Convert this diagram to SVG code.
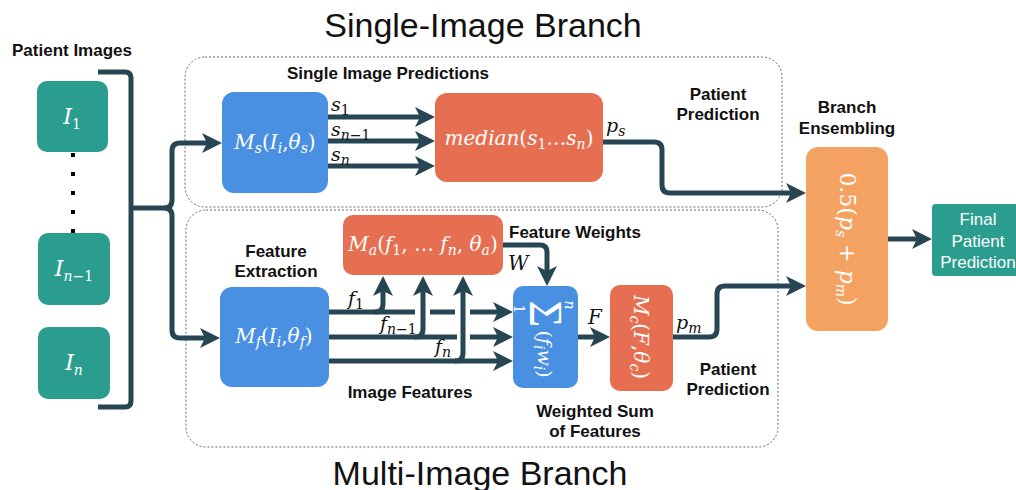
<svg xmlns="http://www.w3.org/2000/svg" width="1016" height="490" viewBox="0 0 1016 490">
<defs>
<marker id="ah" markerUnits="userSpaceOnUse" markerWidth="22" markerHeight="22" refX="12" refY="11" orient="auto">
<path d="M0,1 L20,11 L0,21 L5,11 Z" fill="#264653"/>
</marker>
<style>
.t{font-family:"Liberation Sans",Arial,sans-serif;font-weight:bold;font-size:17px;fill:#111;text-anchor:middle}
.title{font-family:"Liberation Sans",Arial,sans-serif;font-size:34px;fill:#111;text-anchor:middle}
.m{font-family:"DejaVu Serif",serif;font-style:italic;fill:#fff;text-anchor:middle}
.ml{font-family:"DejaVu Serif",serif;font-style:italic;fill:#111}
.up{font-style:normal}
.sb{font-size:14px}
.c{fill:none;stroke:#264653;stroke-width:5}
.a{fill:none;stroke:#264653;stroke-width:5;marker-end:url(#ah)}
.box{fill:none;stroke:#666;stroke-width:1;stroke-dasharray:2,2}
.w{font-family:"Liberation Sans",Arial,sans-serif;font-size:17px;fill:#fff;text-anchor:middle}
</style>
</defs>
<rect width="1016" height="490" fill="#fff"/>

<g id="containers">
<rect class="box" x="185" y="57" width="597" height="150" rx="20"/>
<rect class="box" x="186" y="210" width="592" height="237" rx="20"/>
</g>

<text class="title" x="483" y="37">Single-Image Branch</text>
<text class="title" x="480" y="485">Multi-Image Branch</text>

<g id="patient-images">
<text class="t" x="72" y="56">Patient Images</text>
<g id="I1"><rect x="37" y="81" width="71" height="71" rx="10" fill="#2A9D8F"/>
<text class="m" x="72" y="124" style="font-size:22px">I<tspan class="up sb" dy="5">1</tspan></text></g>
<g id="dots" fill="#000">
<rect x="71" y="153" width="4" height="4"/><rect x="71" y="172" width="4" height="4"/><rect x="71" y="191" width="4" height="4"/><rect x="71" y="210" width="4" height="4"/><rect x="71" y="229" width="4" height="4"/>
</g>
<g id="In1"><rect x="38" y="233" width="72" height="72" rx="10" fill="#2A9D8F"/>
<text class="m" x="74" y="276" style="font-size:22px">I<tspan class="sb" dy="5">n<tspan class="up">−1</tspan></tspan></text></g>
<g id="In"><rect x="38" y="327" width="72" height="72" rx="10" fill="#2A9D8F"/>
<text class="m" x="74" y="370" style="font-size:22px">I<tspan class="sb" dy="5">n</tspan></text></g>
</g>

<g id="Ms"><rect x="222" y="92" width="106" height="101" rx="12" fill="#4A90E2"/>
<text class="m" x="275" y="149" style="font-size:20px">M<tspan class="sb" dy="4">s</tspan><tspan class="up" dy="-4">(</tspan>I<tspan class="sb" dy="4">i</tspan><tspan class="up" dy="-4">,</tspan>θ<tspan class="sb" dy="4">s</tspan><tspan class="up" dy="-4">)</tspan></text></g>

<g id="median"><rect x="435" y="93" width="168" height="89" rx="12" fill="#E76F51"/>
<text class="m" x="519" y="145" style="font-size:20px">median<tspan class="up">(</tspan>s<tspan class="up sb" dy="4">1</tspan><tspan class="up" dy="-4">…</tspan>s<tspan class="sb" dy="4">n</tspan><tspan class="up" dy="-4">)</tspan></text></g>

<g id="ensemble"><rect x="806" y="147" width="82" height="184" rx="12" fill="#F4A261"/>
<text class="m" style="font-size:22px" transform="translate(847,239) rotate(90)" x="0" y="7"><tspan class="up">0.5(</tspan>p<tspan class="sb" dy="4">s</tspan><tspan class="up" dy="-4"> + </tspan>p<tspan class="sb" dy="4">m</tspan><tspan class="up" dy="-4">)</tspan></text></g>

<g id="final"><rect x="932" y="204" width="100" height="72" rx="4" fill="#2A9D8F"/>
<text class="w" x="978" y="225">Final</text><text class="w" x="978" y="247">Patient</text><text class="w" x="978" y="268">Prediction</text></g>

<g id="Ma"><rect x="343" y="215" width="160" height="60" rx="10" fill="#E76F51"/>
<text class="m" x="423" y="251" style="font-size:20px">M<tspan class="sb" dy="4">a</tspan><tspan class="up" dy="-4">(</tspan>f<tspan class="up sb" dy="4">1</tspan><tspan class="up" dy="-4">, … </tspan>f<tspan class="sb" dy="4">n</tspan><tspan class="up" dy="-4">, </tspan>θ<tspan class="sb" dy="4">a</tspan><tspan class="up" dy="-4">)</tspan></text></g>

<g id="Mf"><rect x="220" y="287" width="109" height="100" rx="12" fill="#4A90E2"/>
<text class="m" x="274" y="343" style="font-size:20px">M<tspan class="sb" dy="4">f</tspan><tspan class="up" dy="-4">(</tspan>I<tspan class="sb" dy="4">i</tspan><tspan class="up" dy="-4">,</tspan>θ<tspan class="sb" dy="4">f</tspan><tspan class="up" dy="-4">)</tspan></text></g>

<g id="sum"><rect x="513" y="286" width="65" height="102" rx="10" fill="#4A90E2"/>
<g transform="translate(545,337) rotate(90)">
<text x="-23" y="15" font-family="Liberation Serif,serif" style="font-size:46px" fill="#fff" text-anchor="middle">Σ</text>
<text class="m" x="-32" y="-20" style="font-size:14px">n</text>
<text class="m up" x="-28" y="31" style="font-size:14px">1</text>
<text class="m" x="17" y="7" style="font-size:19px"><tspan class="up">(</tspan>f<tspan class="sb" dy="4">i</tspan><tspan dy="-4">w</tspan><tspan class="sb" dy="4">i</tspan><tspan class="up" dy="-4">)</tspan></text>
</g></g>

<g id="Mc"><rect x="610" y="285" width="63" height="106" rx="10" fill="#E76F51"/>
<text class="m" style="font-size:20px" transform="translate(641,337) rotate(90)" x="0" y="7">M<tspan class="sb" dy="4">c</tspan><tspan class="up" dy="-4">(</tspan>F<tspan class="up">,</tspan>θ<tspan class="sb" dy="4">c</tspan><tspan class="up" dy="-4">)</tspan></text></g>

<g id="connectors">
<path class="c" d="M98,72 H125 Q131,72 131,78 V401 Q131,407 125,407 H98"/>
<path class="c" d="M131,208 H164 Q172,208 172,200"/>
<path class="a" d="M172,200 V151 Q172,143 180,143 H214"/>
<path class="a" d="M164,208 Q172,208 172,216 V330 Q172,338 180,338 H212"/>
<path class="a" d="M328,117 H427"/>
<path class="a" d="M328,141 H427"/>
<path class="a" d="M328,166 H427"/>
<path class="a" d="M603,142 H654 Q662,142 662,150 V185 Q662,193 670,193 H798"/>
<path class="a" d="M888,239 H924"/>
<path class="a" d="M673,337 H709 Q717,337 717,329 V294 Q717,286 725,286 H798"/>
<path class="c" d="M329,312 H415 M430,312 H455"/>
<path class="a" d="M470,312 H505"/>
<path class="c" d="M329,337 H457"/>
<path class="a" d="M470,337 H505"/>
<path class="a" d="M329,361 H505"/>
<path class="a" d="M375,312 Q383,312 383,304 V284"/>
<path class="a" d="M415,337 Q423,337 423,329 V284"/>
<path class="a" d="M455,361 Q463,361 463,353 V284"/>
<path class="a" d="M503,245 H540 Q547,245 547,252 V278"/>
<path class="a" d="M578,337 H602"/>
</g>

<g id="labels">
<text class="ml" x="331" y="111" style="font-size:19px">s<tspan class="up sb" dy="4">1</tspan></text>
<text class="ml" x="331" y="136" style="font-size:19px">s<tspan class="sb" dy="4">n<tspan class="up">−1</tspan></tspan></text>
<text class="ml" x="331" y="161" style="font-size:19px">s<tspan class="sb" dy="4">n</tspan></text>
<text class="ml" x="606" y="132" style="font-size:19px">p<tspan class="sb" dy="4">s</tspan></text>
<text class="ml" x="676" y="329" style="font-size:19px">p<tspan class="sb" dy="4">m</tspan></text>
<text class="ml" x="508" y="270" style="font-size:20px">W</text>
<text class="ml" x="588" y="324" style="font-size:20px">F</text>
<text class="ml" x="348" y="305" style="font-size:19px">f<tspan class="up sb" dy="4">1</tspan></text>
<text class="ml" x="380" y="330" style="font-size:19px">f<tspan class="sb" dy="4">n<tspan class="up">−1</tspan></tspan></text>
<text class="ml" x="435" y="353" style="font-size:19px">f<tspan class="sb" dy="4">n</tspan></text>

<text class="t" x="388" y="79">Single Image Predictions</text>
<text class="t" x="718" y="100">Patient</text><text class="t" x="718" y="120">Prediction</text>
<text class="t" x="847" y="113">Branch</text><text class="t" x="847" y="134">Ensembling</text>
<text class="t" x="276" y="257">Feature</text><text class="t" x="276" y="277">Extraction</text>
<text class="t" x="410" y="398">Image Features</text>
<text class="t" x="575" y="238">Feature Weights</text>
<text class="t" x="728" y="375">Patient</text><text class="t" x="728" y="395">Prediction</text>
<text class="t" x="595" y="417">Weighted Sum</text><text class="t" x="595" y="437">of Features</text>
</g>
</svg>
